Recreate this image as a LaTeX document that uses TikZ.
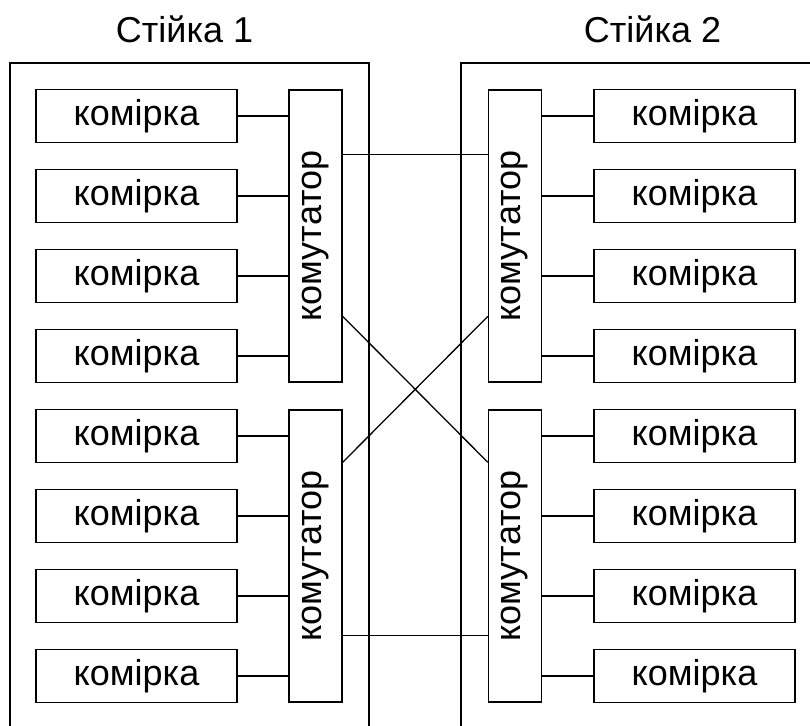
\documentclass[tikz,border=0pt]{standalone}
\usepackage{fontspec}
\setmainfont{Liberation Sans}
\usetikzlibrary{positioning,calc}
\tikzstyle{cell} = [draw, fill=white, rectangle, inner sep=0pt, minimum height=26.5pt, minimum width=100.5pt]
\tikzstyle{switch} = [draw, fill=white, rectangle, inner sep=0pt, minimum height=146pt, minimum width=26.5pt]
\tikzstyle{title} = [anchor=base, inner sep=0pt]

\begin{document}
\begin{tikzpicture}[x=0.5pt, y=-0.5pt, node distance=40pt, line width=0.65pt, font=\fontsize{18}{22}\selectfont]
        \useasboundingbox (0,0) rectangle (810,726);

        % racks
        \draw (10,730) |- (369,63) -- (369,730);
        \draw (815,63) -| (461,730);
        \node [title] (t1) at (184.5,43) {Стійка 1};
        \node [title] (t2) at (652.5,43) {Стійка 2};

        % rack 1
        \node [cell] (l1) at (136.5,116) {комірка};
        \node [cell, below of=l1] (l2) {комірка};
        \node [cell, below of=l2] (l3) {комірка};
        \node [cell, below of=l3] (l4) {комірка};
        \node [cell, below of=l4] (l5) {комірка};
        \node [cell, below of=l5] (l6) {комірка};
        \node [cell, below of=l6] (l7) {комірка};
        \node [cell, below of=l7] (l8) {комірка};
        \node [switch] (s1) at (315.5,236) {\rotatebox{90}{комутатор}};
        \node [switch] (s3) at (315.5,556) {\rotatebox{90}{комутатор}};

        % rack 2
        \node [cell, right of=l1, node distance=279pt] (r1) {комірка};
        \node [cell, below of=r1] (r2) {комірка};
        \node [cell, below of=r2] (r3) {комірка};
        \node [cell, below of=r3] (r4) {комірка};
        \node [cell, below of=r4] (r5) {комірка};
        \node [cell, below of=r5] (r6) {комірка};
        \node [cell, below of=r6] (r7) {комірка};
        \node [cell, below of=r7] (r8) {комірка};
        \node [switch, right of=s1, node distance=99.75pt] (s2) {\rotatebox{90}{комутатор}};
        \node [switch, right of=s3, node distance=99.75pt] (s4) {\rotatebox{90}{комутатор}};

        \draw (l1) -- (l1 -| s1.west);
        \draw (l2) -- (l2 -| s1.west);
        \draw (l3) -- (l3 -| s1.west);
        \draw (l4) -- (l4 -| s1.west);
        \draw (l5) -- (l5 -| s3.west);
        \draw (l6) -- (l6 -| s3.west);
        \draw (l7) -- (l7 -| s3.west);
        \draw (l8) -- (l8 -| s3.west);

        \draw (r1) -- (r1 -| s2.east);
        \draw (r2) -- (r2 -| s2.east);
        \draw (r3) -- (r3 -| s2.east);
        \draw (r4) -- (r4 -| s2.east);
        \draw (r5) -- (r5 -| s4.east);
        \draw (r6) -- (r6 -| s4.east);
        \draw (r7) -- (r7 -| s4.east);
        \draw (r8) -- (r8 -| s4.east);

        % links between racks
        \draw ([yshift=-32.5pt]s1.north east) -- ([yshift=-32.5pt]s2.north west);
        \draw ([yshift=-113.5pt]s1.north east) -- ([yshift=-26.5pt]s4.north west);
        \draw ([yshift=-26.5pt]s3.north east) -- ([yshift=-113.5pt]s2.north west);
        \draw ([yshift=-113pt]s3.north east) -- ([yshift=-113pt]s4.north west);
\end{tikzpicture}
\end{document}
